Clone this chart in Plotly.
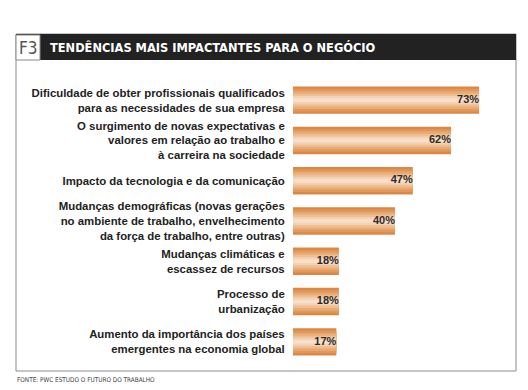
import plotly.graph_objects as go

categories = [
    "Dificuldade de obter profissionais qualificados<br>para as necessidades de sua empresa",
    "O surgimento de novas expectativas e<br>valores em relação ao trabalho e<br>à carreira na sociedade",
    "Impacto da tecnologia e da comunicação",
    "Mudanças demográficas (novas gerações<br>no ambiente de trabalho, envelhecimento<br>da força de trabalho, entre outras)",
    "Mudanças climáticas e<br>escassez de recursos",
    "Processo de<br>urbanização",
    "Aumento da importância dos países<br>emergentes na economia global",
]
values = [73, 62, 47, 40, 18, 18, 17]
value_labels = ["73%", "62%", "47%", "40%", "18%", "18%", "17%"]
title_text = "TENDÊNCIAS MAIS IMPACTANTES PARA O NEGÓCIO"
badge_text = "F3"
source_text = "FONTE: PWC ESTUDO O FUTURO DO TRABALHO"

W, H = 528, 390
def px(x):
    return x / W
def py(y):
    return 1 - y / H

positions = list(range(len(categories)))

fig = go.Figure()

# gradient simulated with overlaid bars of decreasing thickness
layers = [
    (0.68, "#DC8746"),
    (0.56, "#E29859"),
    (0.44, "#E8AB75"),
    (0.32, "#EEBF94"),
    (0.20, "#F3D1B3"),
    (0.09, "#F7DFCB"),
]
for w, c in layers:
    fig.add_trace(go.Bar(
        x=values, y=positions, orientation="h", width=w,
        marker=dict(color=c, line=dict(width=0)),
        hoverinfo="skip", showlegend=False,
    ))

fig.add_trace(go.Scatter(
    x=values, y=positions, mode="text", text=value_labels,
    textposition="middle left",
    textfont=dict(family="Liberation Sans, Arial, sans-serif", size=11, color="#2b2b2b", weight="bold"),
    hoverinfo="skip", showlegend=False, cliponaxis=False,
))

fig.update_layout(
    width=W, height=H,
    margin=dict(l=0, r=0, t=0, b=0),
    paper_bgcolor="white", plot_bgcolor="white",
    barmode="overlay",
    xaxis=dict(domain=[px(285), px(508)], range=[0, 87.5], visible=False, fixedrange=True),
    yaxis=dict(domain=[py(354), py(72)], range=[6.5, -0.5], tickvals=positions, ticktext=categories,
               ticks="outside", ticklen=5, tickcolor="rgba(0,0,0,0)", showline=False,
               showgrid=False, zeroline=False, automargin=False,
               tickfont=dict(family="Liberation Sans, Arial, sans-serif", size=11.4, color="#222222", weight="bold")),
    shapes=[
        # frame
        dict(type="rect", xref="paper", yref="paper", x0=px(8), x1=px(508), y0=py(363), y1=py(26),
             line=dict(color="#8c8c8c", width=1), fillcolor="rgba(0,0,0,0)", layer="below"),
        # header bar
        dict(type="rect", xref="paper", yref="paper", x0=px(8), x1=px(508), y0=py(52), y1=py(26),
             line=dict(width=0), fillcolor="#222222"),
        # badge
        dict(type="rect", xref="paper", yref="paper", x0=px(8), x1=px(32), y0=py(52), y1=py(27),
             line=dict(color="#888888", width=1), fillcolor="white"),
    ],
    annotations=[
        dict(text=badge_text, xref="paper", yref="paper", x=px(20), y=py(40), xanchor="center", yanchor="middle",
             showarrow=False, font=dict(family="DejaVu Sans Condensed, sans-serif", size=17, color="#555555", weight=300)),
        dict(text=title_text, xref="paper", yref="paper", x=px(40), y=py(39.5), xanchor="left", yanchor="middle",
             showarrow=False, font=dict(family="DejaVu Sans Condensed, sans-serif", size=12.7, color="white", weight="bold")),
        dict(text=source_text, xref="paper", yref="paper", x=px(7), y=py(372), xanchor="left", yanchor="middle",
             showarrow=False, font=dict(family="DejaVu Sans Condensed, sans-serif", size=6.4, color="#444444")),
    ],
)

fig.write_html("out.html")
